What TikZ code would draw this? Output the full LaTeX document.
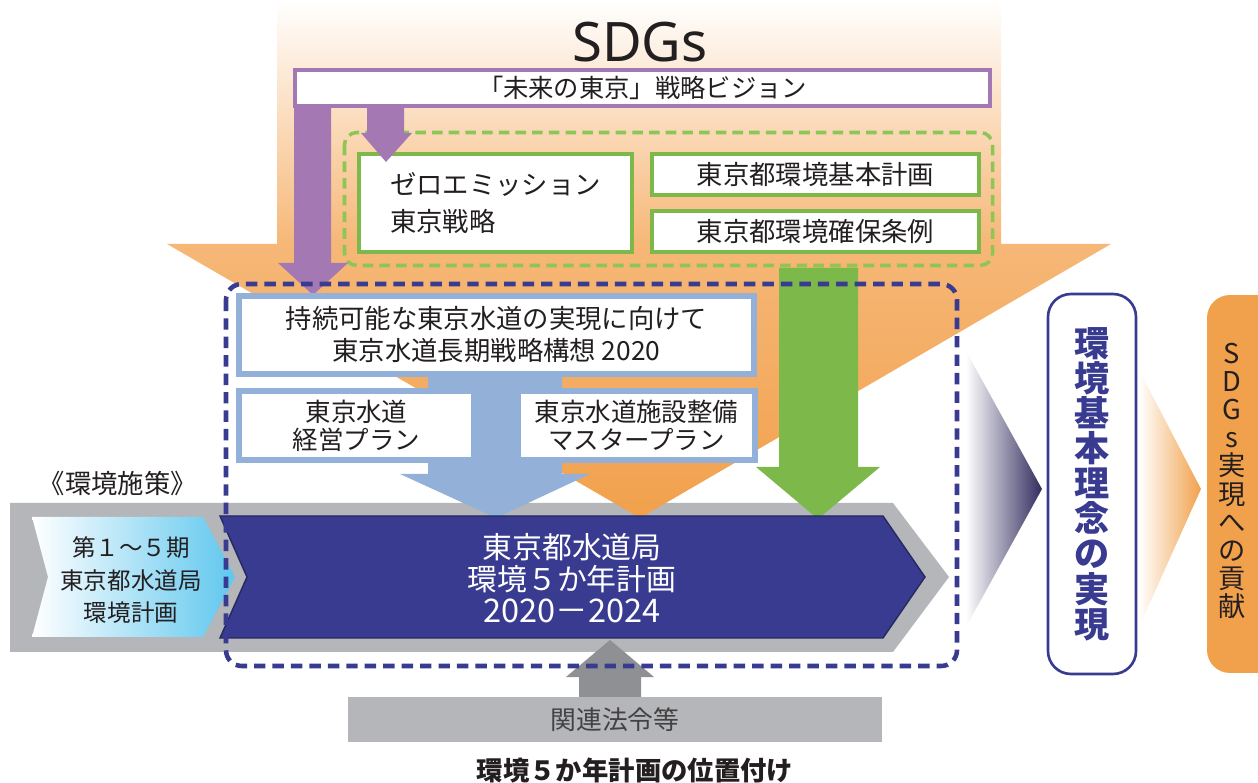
\documentclass[tikz,border=0pt]{standalone}
\usepackage{fontspec}
\setmainfont{Noto Sans CJK JP}
\newfontfamily\latinsans{Noto Sans}
\usetikzlibrary{calc}
\definecolor{orangeA}{HTML}{F1A14C}
\definecolor{orangeL}{HTML}{F6B777}
\definecolor{purpleA}{HTML}{A479B3}
\definecolor{greenA}{HTML}{7CB94A}
\definecolor{greenL}{HTML}{8DC655}
\definecolor{blueL}{HTML}{93B0D8}
\definecolor{navyA}{HTML}{383B8F}
\definecolor{navyB}{HTML}{322C5E}
\definecolor{navyE}{HTML}{26285F}
\definecolor{cyanA}{HTML}{5FC7EE}
\definecolor{greyA}{HTML}{B4B6B9}
\definecolor{greyB}{HTML}{8E9093}
\definecolor{inkA}{HTML}{231F20}
\tikzset{
  lab/.style={text=inkA, font=\fontsize{15pt}{18pt}\selectfont, align=center, inner sep=0pt},
  purplebox/.style={draw=purpleA, line width=2.3pt, fill=white},
  greenbox/.style={draw=greenA, line width=2.4pt, fill=white},
  bluebox/.style={draw=blueL, line width=3.3pt, fill=white},
  greendash/.style={draw=greenL, line width=2pt, dash pattern=on 6pt off 3.5pt, rounded corners=7pt},
  bluedash/.style={draw=navyA, line width=2.6pt, dash pattern=on 6.5pt off 4pt, rounded corners=9pt},
  vtext/.style={align=center, inner sep=0pt},
}
\begin{document}
\begin{tikzpicture}[x=0.02cm, y=-0.02cm]
  \useasboundingbox (0,0) rectangle (1258,783);
  \clip (0,0) rectangle (1258,783);

  % grey band behind the plan
  \fill[greyA] (10,503) -- (893,503) -- (949,577) -- (893,652) -- (10,652) -- cycle;

  % big SDGs arrow
  \shade[top color=white, bottom color=orangeL] (277,0) rectangle (1001,244.5);
  \shade[top color=orangeL, bottom color=orangeA] (167,244) -- (1111,244) -- (640,518) -- cycle;
  \node[text=inkA, font=\latinsans\fontsize{31pt}{31pt}\selectfont] (sdgs) at (640,42) {SDGs};

  \node[purplebox, lab, font=\fontsize{14.4pt}{17pt}\selectfont, minimum width=13.9cm, minimum height=0.72cm] (vision) at (642.5,88) {「未来の東京」戦略ビジョン};

  % tokyo-wide plans
  \draw[greendash] (344.5,132.5) rectangle (992.5,265.5);
  \node[greenbox, lab, align=left, font=\fontsize{15pt}{21pt}\selectfont, minimum width=5.46cm, minimum height=1.96cm] (zero) at (495.5,203) {ゼロエミッション\\東京戦略};
  \node[greenbox, lab, minimum width=6.54cm, minimum height=0.82cm] (basicplan) at (815.5,174.5) {東京都環境基本計画};
  \node[greenbox, lab, minimum width=6.54cm, minimum height=0.82cm] (ordinance) at (815.5,231.5) {東京都環境確保条例};

  % purple arrows
  \fill[purpleA] (294,106) -- (331,106) -- (331,263) -- (348,263) -- (313,295) -- (278,263) -- (294,263) -- cycle;
  \fill[purpleA] (367,106) -- (404,106) -- (404,133) -- (412,133) -- (386,162) -- (361,133) -- (367,133) -- cycle;

  % green arrow
  \fill[greenA] (779,268) -- (858,268) -- (858,467) -- (880,467) -- (818,519) -- (756,467) -- (779,467) -- cycle;

  % waterworks plans
  \fill[blueL] (428,374) -- (562,374) -- (562,474) -- (590,474) -- (496,518) -- (400,474) -- (428,474) -- cycle;
  \node[bluebox, lab, font=\fontsize{15pt}{18.2pt}\selectfont, minimum width=10.3cm, minimum height=1.56cm] (vision2020) at (496.5,335) {持続可能な東京水道の実現に向けて\\東京水道長期戦略構想 2020};
  \node[bluebox, lab, font=\fontsize{14.5pt}{16pt}\selectfont, minimum width=4.7cm, minimum height=1.38cm] (mgmt) at (356.5,425.5) {東京水道\\経営プラン};
  \node[bluebox, lab, font=\fontsize{14.5pt}{16pt}\selectfont, minimum width=4.74cm, minimum height=1.38cm] (master) at (636.5,425.5) {東京水道施設整備\\マスタープラン};

  % previous plans and the five-year plan
  \node[lab] (policy) at (118,483) {《環境施策》};
  \shade[left color=white, right color=cyanA] (32,517) -- (203,517) -- (235,577) -- (203,637) -- (32,637) -- (48,577) -- cycle;
  \node[lab, font=\fontsize{13.4pt}{18.4pt}\selectfont] (former) at (131,580) {第１～５期\\東京都水道局\\環境計画};
  \filldraw[fill=navyA, draw=navyE, line width=0.8pt] (220,516) -- (883,516) -- (925,577) -- (883,638) -- (220,638) -- (247,577) -- cycle;
  \node[lab, text=white, font=\fontsize{17pt}{18.4pt}\selectfont] (fiveyear) at (572,578) {東京都水道局\\環境５か年計画\\{\fontsize{18.5pt}{18.4pt}\selectfont 2020－2024}};

  % laws
  \fill[greyB] (579,699) -- (579,677) -- (566,677) -- (610,640) -- (654,677) -- (641,677) -- (641,699) -- cycle;
  \node[lab, fill=greyA, text=inkA!85, font=\fontsize{14.7pt}{17pt}\selectfont, minimum width=10.68cm, minimum height=0.9cm] (laws) at (615,719.5) {関連法令等};

  \draw[bluedash] (226,284) rectangle (957,666);

  % right side
  \shade[left color=white, middle color=navyB, right color=navyB] (966,351) -- (1042,489) -- (966,627) -- cycle;
  \node[vtext, draw=navyA, fill=white, line width=1.5pt, rounded corners=13pt, minimum width=1.76cm, minimum height=7.6cm, text=navyA, font=\bfseries\fontsize{20pt}{20pt}\selectfont] (ideal) at (1092,484) {環\\境\\基\\本\\理\\念\\の\\実\\現};
  \shade[left color=white, right color=orangeA] (1139,370) -- (1201,489) -- (1139,627) -- cycle;
  \node[fill=orangeA, rounded corners=13pt, minimum width=1.52cm, minimum height=7.56cm] (contrib) at (1245,484) {};
  \node[vtext, text=inkA, font=\fontsize{15.5pt}{16pt}\selectfont] (contribtext) at (1232,481) {S\\D\\G\\s\\実\\現\\へ\\の\\貢\\献};

  \node[lab, font=\bfseries\fontsize{15pt}{18pt}\selectfont] (caption) at (635,770) {環境５か年計画の位置付け};
\end{tikzpicture}
\end{document}
